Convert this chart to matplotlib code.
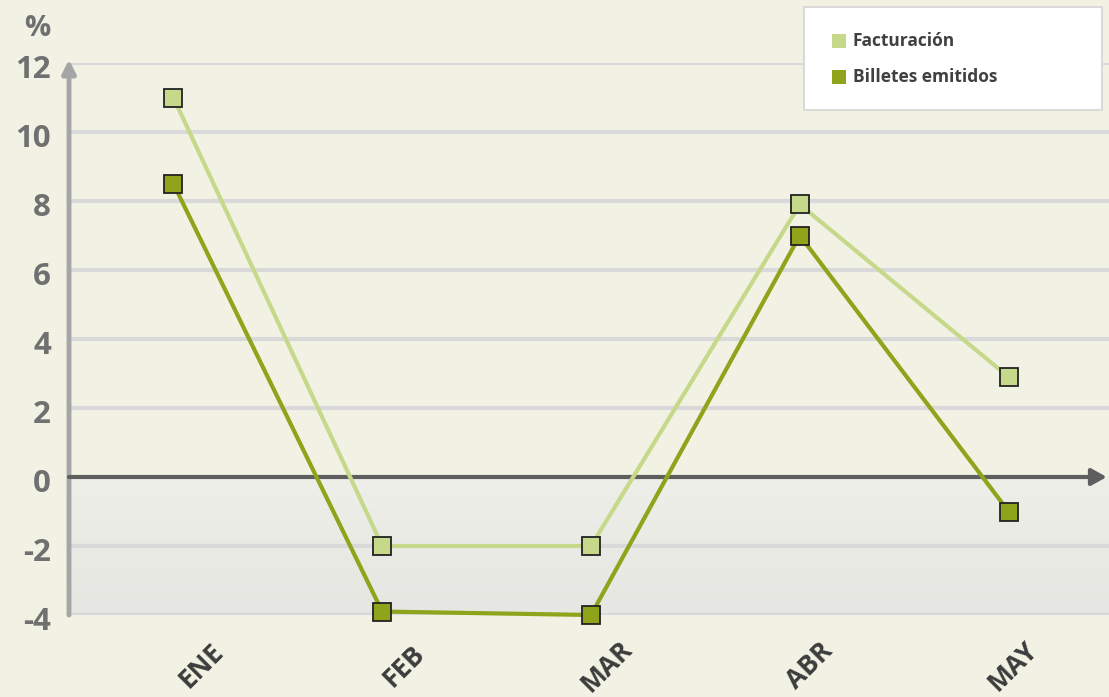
import numpy as np
import matplotlib
matplotlib.use("Agg")
import matplotlib.pyplot as plt
import matplotlib.transforms as mtransforms
from matplotlib.patches import Rectangle

# data
meses = ["ENE", "FEB", "MAR", "ABR", "MAY"]
facturacion = [11.0, -2.0, -2.0, 7.9, 2.9]
billetes = [8.5, -3.9, -4.0, 7.0, -1.0]
y_ticks = [-4, -2, 0, 2, 4, 6, 8, 10, 12]

plt.rcParams['font.family'] = ['Open Sans', 'DejaVu Sans']

bg = "#F2F2E4"
c_fact = "#C6D98A"
c_bill = "#8FA31B"

fig = plt.figure(figsize=(11.09, 6.97), dpi=100, facecolor=bg)
# axes from x=69px to ~1113px, y=63px (12) to 615px (-4)
ax = fig.add_axes([69 / 1109, (697 - 615) / 697, 1044 / 1109, 552 / 697])
ax.set_facecolor(bg)
ax.set_xlim(-0.5, 4.5)
ax.set_ylim(-4, 12)
for s in ax.spines.values():
    s.set_visible(False)
ax.set_xticks([])
ax.set_yticks([])

# shaded area below zero
grad = np.linspace(0, 1, 100).reshape(-1, 1)
cmap = matplotlib.colors.LinearSegmentedColormap.from_list("g", ["#EFEFE9", "#E6E6E2"])
ax.imshow(grad, extent=[-0.5, 4.5, -4, 0], aspect="auto", cmap=cmap, zorder=0,
          origin="upper")

# grid lines
for y in y_ticks:
    if y != 0:
        ax.axhline(y, color="#D9D9D9", lw=3, zorder=1)

# y axis with arrow
ax.annotate("", xy=(-0.5, 12.1), xytext=(-0.5, -4),
            arrowprops=dict(arrowstyle="-|>,head_length=0.8,head_width=0.4",
                            color="#A5A5A5", lw=3.5, shrinkA=0, shrinkB=0),
            zorder=3, annotation_clip=False)
# zero line with arrow
ax.annotate("", xy=(4.47, 0), xytext=(-0.5, 0),
            arrowprops=dict(arrowstyle="-|>,head_length=0.9,head_width=0.5",
                            color="#5E5E5E", lw=3, shrinkA=0, shrinkB=0),
            zorder=3, annotation_clip=False)

x = np.arange(len(meses))
ax.plot(x, facturacion, color=c_fact, lw=3, marker="s", ms=12.5,
        mfc=c_fact, mec="#222222", mew=1.3, zorder=5, clip_on=False)
ax.plot(x, billetes, color=c_bill, lw=3, marker="s", ms=12.5,
        mfc=c_bill, mec="#222222", mew=1.3, zorder=6, clip_on=False)

# y tick labels
for y in y_ticks:
    ax.text(-0.5, y, str(y), transform=mtransforms.offset_copy(
        ax.transData, fig=fig, x=-18, y=-7, units="dots"),
        ha="right", va="center", fontsize=22.5, fontweight="bold", color="#707070")
ax.text(37 / 1109, 1 - 29 / 697, "%", transform=fig.transFigure, ha="center",
        va="center", fontsize=21, fontweight="bold", color="#707070")

# x tick labels, rotated
for i, m in enumerate(meses):
    ax.text(i, -4, m, transform=mtransforms.offset_copy(
        ax.transData, fig=fig, x=28 - 6 * i, y=-51, units="dots"),
        ha="center", va="center", rotation=45, fontsize=19, fontweight="bold",
        color="#3C3C3C", clip_on=False)

# legend box
lx0, ly0, lw_, lh_ = 804 / 1109, 1 - 110 / 697, 298 / 1109, 103 / 697
fig.patches.append(Rectangle((lx0, ly0), lw_, lh_, transform=fig.transFigure,
                             facecolor="white", edgecolor="#DADADA", lw=1.5, zorder=10))
for j, (lab, c) in enumerate([("Facturación", c_fact), ("Billetes emitidos", c_bill)]):
    yy = 1 - (41 + 36 * j) / 697
    fig.patches.append(Rectangle((832 / 1109, yy - 7 / 697), 14 / 1109, 14 / 697,
                                 transform=fig.transFigure, facecolor=c,
                                 edgecolor="none", zorder=11))
    fig.text(853 / 1109, yy, lab, ha="left", va="center", fontsize=12.5,
             fontweight="bold", color="#404040", zorder=12)

fig.savefig("out.png", dpi=100, facecolor=bg)
